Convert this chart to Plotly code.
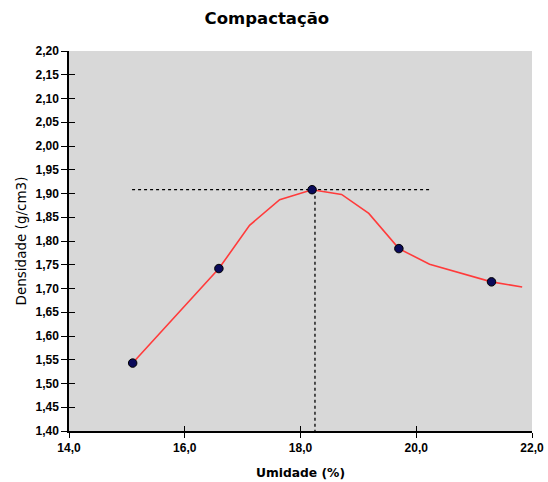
import plotly.graph_objects as go

# Measured points
umidade = [15.10, 16.59, 18.20, 19.70, 21.30]
densidade = [1.543, 1.742, 1.908, 1.784, 1.714]

# Fitted (smoothed) curve vertices
curve_x = [15.10, 16.59, 17.12, 17.64, 18.20, 18.71, 19.18, 19.70, 20.23, 21.30, 21.83]
curve_y = [1.543, 1.742, 1.833, 1.887, 1.908, 1.898, 1.858, 1.784, 1.751, 1.714, 1.703]

# Optimum reference lines
h_line_x = [15.09, 20.23]
h_line_y = [1.908, 1.908]
v_line_x = [18.25, 18.25]
v_line_y = [1.908, 1.40]

x_range = [14.0, 22.0]
y_range = [1.40, 2.20]

x_ticks = [14, 16, 18, 20, 22]
x_labels = ["14,0", "16,0", "18,0", "20,0", "22,0"]
y_ticks = [1.40, 1.45, 1.50, 1.55, 1.60, 1.65, 1.70, 1.75, 1.80, 1.85, 1.90,
           1.95, 2.00, 2.05, 2.10, 2.15, 2.20]
y_labels = ["1,40", "1,45", "1,50", "1,55", "1,60", "1,65", "1,70", "1,75", "1,80",
            "1,85", "1,90", "1,95", "2,00", "2,05", "2,10", "2,15", "2,20"]

fig = go.Figure()
fig.add_trace(go.Scatter(x=h_line_x, y=h_line_y, mode="lines",
                         line=dict(color="black", width=1.3, dash="3px,3px"),
                         hoverinfo="skip"))
fig.add_trace(go.Scatter(x=v_line_x, y=v_line_y, mode="lines",
                         line=dict(color="black", width=1.3, dash="3px,3px"),
                         hoverinfo="skip"))
fig.add_trace(go.Scatter(x=curve_x, y=curve_y, mode="lines",
                         line=dict(color="#ff3b3b", width=1.6)))
fig.add_trace(go.Scatter(x=umidade, y=densidade, mode="markers",
                         marker=dict(color="#0a0a5a", size=8.5,
                                     line=dict(color="black", width=1))))
# overlay axes to make crossing tick marks
fig.add_trace(go.Scatter(x=[None], y=[None], xaxis="x2", yaxis="y2", showlegend=False))

tickfont = dict(family="Liberation Sans, Arial", size=12, color="black")

fig.update_layout(
    width=548, height=482,
    margin=dict(l=69, r=16, t=51, b=51, autoexpand=False),
    paper_bgcolor="white",
    plot_bgcolor="#d8d8d8",
    showlegend=False,
    title=dict(text="<b>Compactação</b>", x=0.487, xanchor="center", y=0.962, yanchor="middle",
               font=dict(family="DejaVu Sans, Verdana", size=16.5, color="black")),
    xaxis=dict(range=x_range, tickvals=x_ticks, ticktext=["<b>%s</b>" % t for t in x_labels],
               automargin=False,
               showgrid=False, zeroline=False, showline=True, linecolor="black", linewidth=1.5,
               ticks="outside", ticklen=5, tickwidth=1.2, tickcolor="black",
               tickfont=tickfont,
               title=dict(text="<b>Umidade (%)</b>", standoff=14,
                          font=dict(family="DejaVu Sans, Verdana", size=12.3, color="black"))),
    yaxis=dict(range=y_range, tickvals=y_ticks, ticktext=["<b>%s</b>" % t for t in y_labels],
               automargin=False,
               showgrid=False, zeroline=False, showline=True, linecolor="black", linewidth=1.5,
               ticks="outside", ticklen=6, tickwidth=1.2, tickcolor="black",
               tickfont=tickfont,
               title=dict(text="Densidade (g/cm3)", standoff=6,
                          font=dict(family="DejaVu Sans, Verdana", size=13.5, color="black"))),
    xaxis2=dict(range=x_range, overlaying="x", tickvals=x_ticks, showticklabels=False,
                automargin=False,
                showgrid=False, zeroline=False, ticks="inside", ticklen=5, tickwidth=1.2,
                tickcolor="black", anchor="y"),
    yaxis2=dict(range=y_range, overlaying="y", tickvals=y_ticks, showticklabels=False,
                automargin=False,
                showgrid=False, zeroline=False, ticks="inside", ticklen=6, tickwidth=1.2,
                tickcolor="black", anchor="x"),
)

fig.write_html("out.html")
